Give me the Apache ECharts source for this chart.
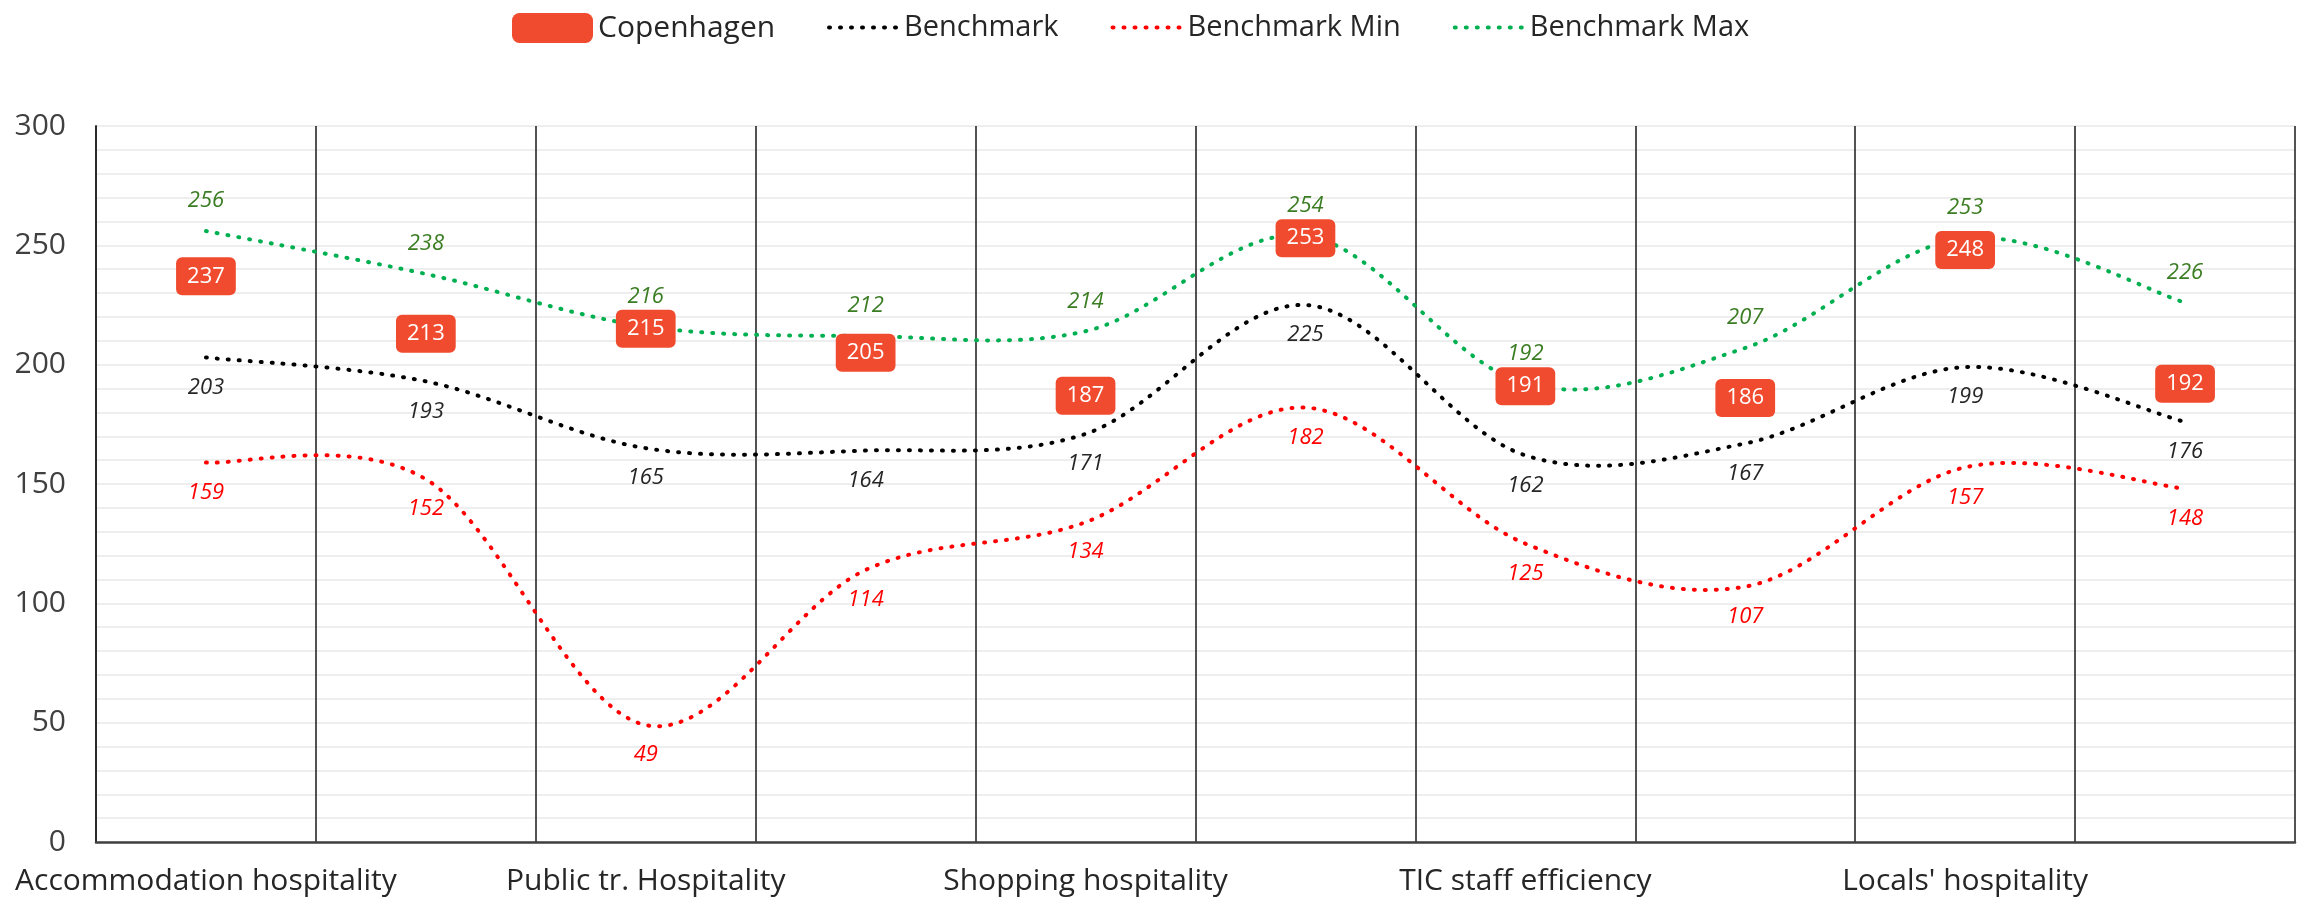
<!DOCTYPE html>
<html>
<head>
<meta charset="utf-8">
<script src="https://cdn.jsdelivr.net/npm/echarts@6/dist/echarts.min.js"></script>
<style>
  html, body { margin: 0; padding: 0; background: #fff; }
  #chart { width: 2303px; height: 899px; }
</style>
</head>
<body>
<div id="chart"></div>
<script>
// categories, only every other one gets a label on the axis
var categories = [
  'Accommodation hospitality', 'Restaurant hospitality',
  'Public tr. Hospitality', 'Taxi hospitality',
  'Shopping hospitality', 'Attractions hospitality',
  'TIC staff efficiency', 'TIC information',
  "Locals' hospitality", 'Overall hospitality'
];
var copenhagen   = [237, 213, 215, 205, 187, 253, 191, 186, 248, 192];
var benchmark    = [203, 193, 165, 164, 171, 225, 162, 167, 199, 176];
var benchmarkMin = [159, 152, 49, 114, 134, 182, 125, 107, 157, 148];
var benchmarkMax = [256, 238, 216, 212, 214, 254, 192, 207, 253, 226];
var yTicks = [0, 50, 100, 150, 200, 250, 300];

var FONT = '"Open Sans", "Liberation Sans", Arial, sans-serif';
var BOX_RED = '#F04B2E';
var DOTS = [1, 10];

// excel-like smoothed curve (catmull-rom), points come from api.coord
function curve(values, color) {
  return function (params, api) {
    var pts = values.map(function (v, i) { return api.coord([i, v]); });
    var n = pts.length;
    var d = 'M' + pts[0][0] + ' ' + pts[0][1];
    for (var i = 0; i < n - 1; i++) {
      var p0 = pts[Math.max(i - 1, 0)], p1 = pts[i], p2 = pts[i + 1], p3 = pts[Math.min(i + 2, n - 1)];
      var c1x = p1[0] + (p2[0] - p0[0]) / 6, c1y = p1[1] + (p2[1] - p0[1]) / 6;
      var c2x = p2[0] - (p3[0] - p1[0]) / 6, c2y = p2[1] - (p3[1] - p1[1]) / 6;
      d += ' C' + c1x + ' ' + c1y + ' ' + c2x + ' ' + c2y + ' ' + p2[0] + ' ' + p2[1];
    }
    return {
      type: 'path',
      silent: true,
      shape: { pathData: d },
      style: { fill: 'none', stroke: color, lineWidth: 4, lineDash: DOTS, lineCap: 'round' }
    };
  };
}

// hidden line series: legend entry + value labels
function labelSeries(name, values, color, labelColor, pos) {
  return {
    name: name,
    type: 'line',
    data: values,
    symbol: 'circle',
    symbolSize: 0,
    showSymbol: true,
    itemStyle: { color: 'rgba(0,0,0,0)' },
    lineStyle: { color: color, width: 4, type: DOTS, cap: 'round', opacity: 0 },
    z: 5,
    label: {
      show: true, position: pos, distance: 19,
      color: labelColor, fontSize: 22, fontStyle: 'italic', fontFamily: FONT
    }
  };
}
function curveSeries(values, color) {
  return {
    type: 'custom',
    coordinateSystem: 'cartesian2d',
    data: [[0, values[0]]],
    renderItem: curve(values, color),
    z: 3
  };
}

var chart = echarts.init(document.getElementById('chart'));

chart.setOption({
  animation: false,
  backgroundColor: '#fff',
  textStyle: { fontFamily: FONT },
  legend: [{
    left: 507, top: 8,
    itemWidth: 81, itemHeight: 30,
    icon: 'roundRect',
    textStyle: { fontSize: 30, color: '#262626', fontFamily: FONT },
    data: ['Copenhagen']
  }, {
    left: 822, top: 8,
    itemWidth: 70, itemHeight: 30, itemGap: 52,
    itemStyle: { opacity: 0 },
    lineStyle: { width: 4, type: DOTS, cap: 'round', opacity: 1 },
    textStyle: { fontSize: 29, color: '#262626', fontFamily: FONT },
    data: ['Benchmark', 'Benchmark Min', 'Benchmark Max']
  }],
  grid: { left: 96, right: 8, top: 126, bottom: 57, containLabel: false },
  xAxis: {
    type: 'category',
    data: categories,
    boundaryGap: true,
    axisLine: { lineStyle: { color: '#404040', width: 2.5 } },
    axisTick: { show: false },
    axisLabel: {
      interval: 1, margin: 24,
      fontSize: 30, color: '#262626', fontFamily: FONT
    },
    splitLine: { show: true, interval: 0, lineStyle: { color: '#1A1A1A', width: 1.5 } }
  },
  yAxis: {
    type: 'value',
    min: yTicks[0], max: yTicks[yTicks.length - 1], interval: 50,
    axisLine: { show: true, lineStyle: { color: '#262626', width: 1.8 } },
    axisTick: { show: false },
    axisLabel: { margin: 30, fontSize: 30, color: '#404040', fontFamily: FONT },
    splitLine: { show: true, lineStyle: { color: '#EEEEEE', width: 2 } },
    minorTick: { show: false, splitNumber: 5 },
    minorSplitLine: { show: true, lineStyle: { color: '#EEEEEE', width: 2 } }
  },
  series: [{
    name: 'Copenhagen',
    type: 'scatter',
    data: copenhagen,
    symbol: 'roundRect',
    symbolSize: 0,
    itemStyle: { color: BOX_RED, opacity: 1 },
    z: 10,
    label: {
      show: true, position: 'inside',
      color: '#fff', fontSize: 22, fontFamily: FONT,
      backgroundColor: BOX_RED, borderRadius: 6,
      padding: [8, 11]
    }
  },
    labelSeries('Benchmark', benchmark, '#000', '#262626', 'bottom'),
    labelSeries('Benchmark Min', benchmarkMin, '#FF0000', '#FF0000', 'bottom'),
    labelSeries('Benchmark Max', benchmarkMax, '#00B050', '#3B7D23', 'top'),
    curveSeries(benchmark, '#000'),
    curveSeries(benchmarkMin, '#FF0000'),
    curveSeries(benchmarkMax, '#00B050')
  ]
});
</script>
</body>
</html>
